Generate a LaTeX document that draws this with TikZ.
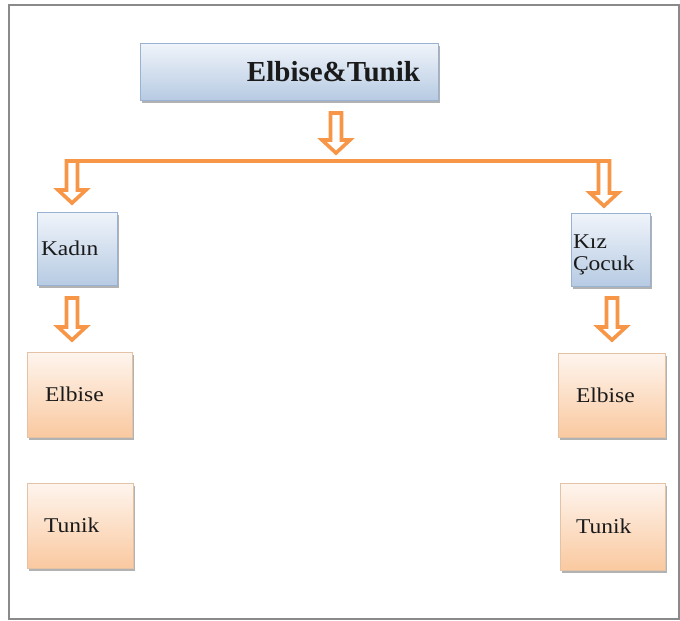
\documentclass[tikz,border=0pt]{standalone}
\usepackage{fontspec}
\setmainfont{Liberation Serif}
\newfontfamily\boxfont[FakeStretch=1.12]{Liberation Serif}
\usetikzlibrary{calc,shadows}

\definecolor{accent}{HTML}{F79646}
\definecolor{blueTop}{HTML}{F0F4FA}
\definecolor{blueBot}{HTML}{B7CBE3}
\definecolor{blueEdge}{HTML}{9AB2D2}
\definecolor{peachTop}{HTML}{FEF5EE}
\definecolor{peachBot}{HTML}{FAC9A0}
\definecolor{peachEdge}{HTML}{E3C2A6}
\definecolor{frameGray}{HTML}{8A8A8A}
\definecolor{ink}{HTML}{1A1A1A}

\tikzset{
  framebox/.style={draw=frameGray, line width=1.5pt},
  boxshadow/.style={drop shadow={shadow xshift=2pt, shadow yshift=-3pt,
      fill=black!55, opacity=0.55}},
  bluebox/.style={draw=blueEdge, line width=0.6pt, top color=blueTop,
      bottom color=blueBot, boxshadow, inner ysep=0pt, text=ink},
  peachbox/.style={draw=peachEdge, line width=0.6pt, top color=peachTop,
      bottom color=peachBot, boxshadow, inner ysep=0pt, align=left, text=ink,
      font=\boxfont\fontsize{21}{22}\selectfont},
  arrowline/.style={draw=accent, line width=3.6pt, fill=white, line join=miter},
  hline/.style={draw=accent, line width=4pt},
}

% hollow block arrow pointing down from #1 to #2
\newcommand\blockdown[2]{%
  \draw[arrowline] let \p1=(#1), \p2=(#2) in
    (\x1-5.5pt,\y1) -- (\x1-5.5pt,\y2+15pt) -- (\x1-14pt,\y2+15pt) --
    (\x1,\y2+2pt) -- (\x1+14pt,\y2+15pt) -- (\x1+5.5pt,\y2+15pt) --
    (\x1+5.5pt,\y1) -- cycle;}

\begin{document}
\begin{tikzpicture}[x=1pt,y=-1pt]
\useasboundingbox (0,0) rectangle (680,621);
\draw[framebox] (9,5) rectangle (679,619);

% main heading
\node[bluebox, minimum width=298pt, minimum height=57pt, text width=262pt,
      inner xsep=18pt, align=right, font=\bfseries\fontsize{29}{30}\selectfont]
  (top) at (289,71.5) {Elbise\&Tunik};

% second level
\node[bluebox, minimum height=73pt, text width=72pt, inner xsep=4pt,
      align=left, font=\boxfont\fontsize{21}{22}\selectfont]
  (kadin) at (77,248.5) {Kadın};
\node[bluebox, minimum height=73pt, text width=75pt, inner xsep=2pt,
      align=left, font=\boxfont\fontsize{21}{22}\selectfont]
  (kiz) at (610.5,249.5) {\rule{0pt}{24pt}Kız\\Çocuk};

% third level
\node[peachbox, minimum height=85pt, text width=69pt, inner xsep=18pt]
  (elbL) at (79.5,394.5) {Elbise};
\node[peachbox, minimum height=85pt, text width=72pt, inner xsep=17pt]
  (tunL) at (80,525.5) {Tunik};
\node[peachbox, minimum height=84pt, text width=71pt, inner xsep=18pt]
  (elbR) at (611.5,395) {Elbise};
\node[peachbox, minimum height=87pt, text width=73pt, inner xsep=16pt]
  (tunR) at (612.5,526.5) {Tunik};

% connector anchors
\coordinate (topA) at (336,113);
\coordinate (topB) at (336,155);
\coordinate (barL) at (66,161);
\coordinate (barR) at (610,161);
\coordinate (leftA) at (72,161);
\coordinate (leftB) at (72,205);
\coordinate (rightA) at (604,161);
\coordinate (rightB) at (604,208);
\coordinate (kadA) at (72,298);
\coordinate (kadB) at (72,342);
\coordinate (kizA) at (612,298);
\coordinate (kizB) at (612,342);

% connectors
\draw[hline] (barL) -- (barR);
\blockdown{topA}{topB}
\blockdown{leftA}{leftB}
\blockdown{rightA}{rightB}
\blockdown{kadA}{kadB}
\blockdown{kizA}{kizB}
\end{tikzpicture}
\end{document}
